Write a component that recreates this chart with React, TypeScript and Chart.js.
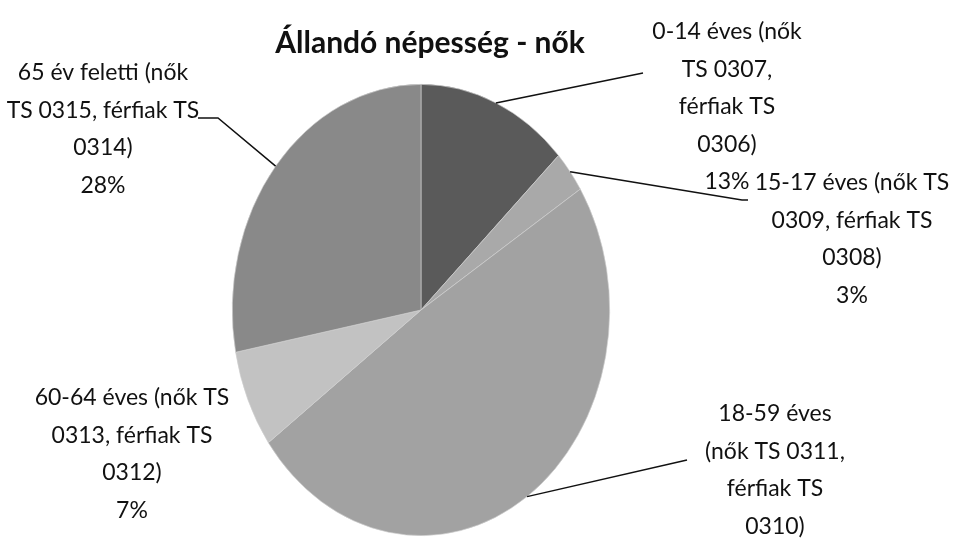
import React, { useEffect, useRef } from "react";
import { Chart, registerables } from "chart.js";

Chart.register(...registerables);

const TITLE = "Állandó népesség - nők";
const CATEGORIES = [
  "0-14 éves",
  "15-17 éves",
  "18-59 éves",
  "60-64 éves",
  "65 év feletti",
];
const VALUES = [13, 3, 49, 7, 28];
const LABEL_LINES: string[][] = [
  ["0-14 éves (nők", "TS 0307,", "férfiak TS", "0306)"],
  ["15-17 éves (nők TS", "0309, férfiak TS", "0308)"],
  ["18-59 éves", "(nők TS 0311,", "férfiak TS", "0310)"],
  ["60-64 éves (nők TS", "0313, férfiak TS", "0312)"],
  ["65 év feletti (nők", "TS 0315, férfiak TS", "0314)"],
];
const COLORS = ["#5a5a5a", "#a9a9a9", "#a2a2a2", "#c2c2c2", "#898989"];

// layout/style constants
const SY = 226 / 189; // vertical stretch of the pie (ellipse)
const FONT = "Lato, 'Open Sans', sans-serif";
const LINE_H = 37.5;
const LABEL_POS = [
  { x: 727, y: 32, leader: [[643, 73]] },
  { x: 852, y: 183, leader: [[748, 200], [742, 200]] },
  { x: 775, y: 414, leader: [[687, 460]] },
  { x: 132, y: 398, leader: null },
  { x: 103, y: 73, leader: [[198, 118], [218, 118]] },
];

const ellipsePlugin = {
  id: "ellipse",
  beforeDatasetsDraw(chart: any) {
    const arc = chart.getDatasetMeta(0).data[0] as any;
    const ctx = chart.ctx;
    ctx.save();
    ctx.translate(arc.x, arc.y);
    ctx.scale(1, SY);
    ctx.translate(-arc.x, -arc.y);
  },
  afterDatasetsDraw(chart: any) {
    chart.ctx.restore();
  },
};

const labelPlugin = {
  id: "labels",
  afterDraw(chart: any) {
    const ctx = chart.ctx as CanvasRenderingContext2D;
    const meta = chart.getDatasetMeta(0);
    const total = VALUES.reduce((a, b) => a + b, 0);
    ctx.save();
    // title
    ctx.fillStyle = "#111";
    ctx.font = `bold 30px ${FONT}`;
    ctx.textAlign = "center";
    ctx.textBaseline = "alphabetic";
    ctx.fillText(TITLE, 430, 53);

    ctx.font = `23px ${FONT}`;
    ctx.textBaseline = "middle";
    meta.data.forEach((arc: any, i: number) => {
      const pos = LABEL_POS[i];
      const lines = [...LABEL_LINES[i], Math.round((VALUES[i] / total) * 100) + "%"];
      lines.forEach((ln, j) => {
        ctx.fillText(ln, pos.x, pos.y + j * LINE_H);
      });
      if (pos.leader) {
        const mid = (arc.startAngle + arc.endAngle) / 2;
        const ex = arc.x + Math.cos(mid) * arc.outerRadius;
        const ey = arc.y + Math.sin(mid) * arc.outerRadius * SY;
        ctx.beginPath();
        ctx.strokeStyle = "#111";
        ctx.lineWidth = 1.5;
        ctx.moveTo(pos.leader[0][0], pos.leader[0][1]);
        for (let k = 1; k < pos.leader.length; k++) ctx.lineTo(pos.leader[k][0], pos.leader[k][1]);
        ctx.lineTo(ex, ey);
        ctx.stroke();
      }
    });
    ctx.restore();
  },
};

export default function App() {
  const ref = useRef<HTMLCanvasElement>(null);
  useEffect(() => {
    if (!ref.current) return;
    const chart = new Chart(ref.current, {
      type: "pie",
      data: {
        labels: CATEGORIES,
        datasets: [
          {
            data: VALUES,
            backgroundColor: COLORS,
            borderWidth: 0.6,
            borderColor: "#d0d0d0",
          },
        ],
      },
      options: {
        animation: false,
        responsive: true,
        maintainAspectRatio: false,
        layout: { padding: { left: 232, right: 352, top: 121, bottom: 41 } },
        plugins: {
          legend: { display: false },
          tooltip: { enabled: false },
          title: { display: false },
        },
      },
      plugins: [ellipsePlugin, labelPlugin],
    });
    return () => chart.destroy();
  }, []);
  return (
    <div style={{ position: "absolute", left: 0, top: 0, width: 962, height: 540, background: "#fff" }}>
      <canvas ref={ref} />
    </div>
  );
}
